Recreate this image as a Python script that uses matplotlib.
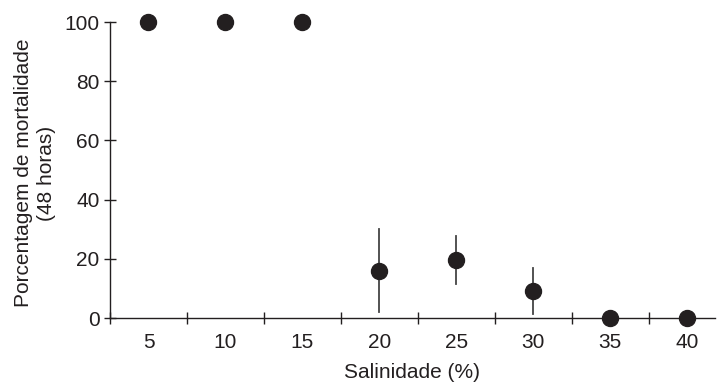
import matplotlib
matplotlib.use("Agg")
import matplotlib.pyplot as plt

salinity = [5, 10, 15, 20, 25, 30, 35, 40]
mortality = [100, 100, 100, 16, 19.6, 9.1, 0, 0]
error = [0, 0, 0, 14, 8.2, 7.8, 0, 0]
xticks = [5, 10, 15, 20, 25, 30, 35, 40]
yticks = [0, 20, 40, 60, 80, 100]

plt.rcParams['font.family'] = ['Liberation Sans', 'DejaVu Sans']
fig = plt.figure(figsize=(7.18, 3.84), dpi=100)
ax = fig.add_axes([110/718, 1-318/384, (715-110)/718, (318-22)/384])

for x, y, e in zip(salinity, mortality, error):
    if e > 0:
        ax.plot([x, x], [y - e, y + e], color='#444444', lw=1.3, clip_on=False, zorder=2)
ax.plot(salinity, mortality, 'o', color='#231f20', markersize=11.5, clip_on=False, zorder=3)

ax.set_xlim(2.5, 41.8)
ax.set_ylim(0, 100)
ax.spines['top'].set_visible(False)
ax.spines['right'].set_visible(False)
for s in ['left', 'bottom']:
    ax.spines[s].set_linewidth(1.0)
    ax.spines[s].set_color('#231f20')

fs = 15
ax.set_xticks([2.5, 7.5, 12.5, 17.5, 22.5, 27.5, 32.5, 37.5])
ax.set_xticklabels([])
ax.set_xticks(xticks, minor=True)
ax.set_xticklabels([str(v) for v in xticks], minor=True, fontsize=fs)
ax.tick_params(axis='x', which='major', direction='inout', length=9, width=1.0, color='#231f20')
ax.tick_params(axis='x', which='minor', length=0, pad=11, labelcolor='#231f20')
ax.set_yticks(yticks)
ax.set_yticklabels([str(v) for v in yticks], fontsize=fs)
ax.tick_params(axis='y', direction='inout', length=9, width=1.0, color='#231f20', pad=3, labelcolor='#231f20')

fig.text(0.5*(110+715)/718, 1-373/384, 'Salinidade (%)', ha='center', va='center', fontsize=fs, color='#231f20')
fig.text(35/718, 1-173/384, 'Porcentagem de mortalidade\n(48 horas)', ha='center', va='center',
         rotation=90, fontsize=fs, color='#231f20', linespacing=1.3)

fig.savefig('out.png', dpi=100)
